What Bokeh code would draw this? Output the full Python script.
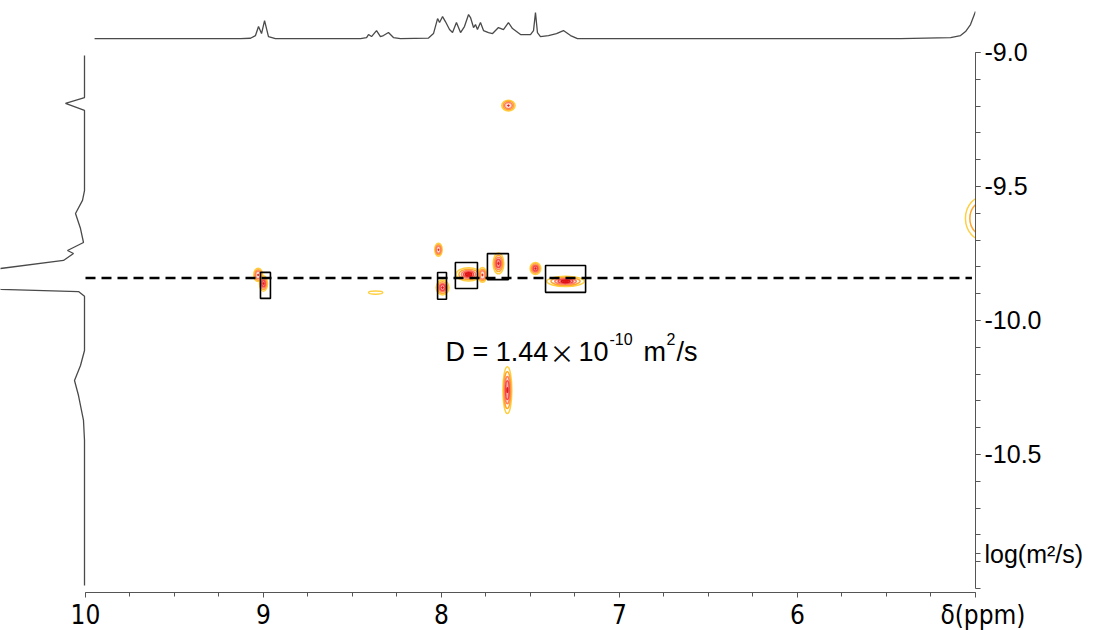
import numpy as np
from bokeh.plotting import figure
from bokeh.models import Range1d, FixedTicker, Label
from bokeh.embed import file_html
from bokeh.resources import INLINE

# ---- 1D 1H spectrum (top projection): chemical shift (ppm) / intensity (a.u.)
h1_ppm = [9.949, 9.129, 9.073, 9.045, 9.028, 9.011, 8.994, 8.972, 8.933, 8.455,
          8.421, 8.410, 8.393, 8.365, 8.343, 8.326, 8.298, 8.270, 8.230, 8.073,
          8.045, 8.022, 8.011, 7.994, 7.978, 7.955, 7.938, 7.916, 7.893, 7.871,
          7.848, 7.837, 7.820, 7.809, 7.798, 7.781, 7.764, 7.736, 7.713, 7.680,
          7.652, 7.624, 7.601, 7.556, 7.500, 7.483, 7.472, 7.461, 7.444, 7.399,
          7.354, 7.315, 7.275, 7.236, 6.545, 5.421, 5.140, 5.084, 5.056, 5.028, 5.000]
h1_int = [0, 0, 0.3, 3, 12, 5, 18, 2, 0, 0,
          1, 4, 2, 8, 2, 3, 6, 1, 0, 0.5,
          5, 20, 16, 22, 17, 9, 6, 16, 6, 12,
          24, 21, 11, 14, 9, 16, 8, 6, 5, 11,
          9, 16, 10, 4, 4, 8, 26, 6, 2, 3,
          5, 8, 3, 0, 0, 0, 1, 3, 7, 14, 27]

# ---- diffusion-dimension projection (left): log D / intensity (a.u.)
proj_logd = [-9.011, -9.168, -9.190, -9.216, -9.515, -9.552, -9.601, -9.657,
             -9.709, -9.739, -9.750, -9.776, -9.806, -9.843, -9.884, -9.892,
             -9.910, -10.112, -10.168, -10.224, -10.280, -10.373, -10.448, -10.989]
proj_int = [0, 0, 19, 0, 0, 2, 9, 4,
            1, 17, 11, 21, 84, 140, 84, 6,
            0, 0, 4, 10, 6, 1, 0, 0]

# ---- 2D DOSY cross peaks: shift, log D, line widths, number of contour levels
peak_ppm = [9.03, 9.00, 8.37, 8.017, 7.994, 7.848, 7.77, 7.68, 7.472, 7.303, 7.624, 7.63, 4.944]
peak_logd = [-9.83, -9.862, -9.896, -9.736, -9.877, -9.828, -9.83, -9.787, -9.806, -9.854,
             -9.198, -10.26, -9.619]
peak_w = [0.05, 0.045, 0.08, 0.042, 0.072, 0.14, 0.05, 0.06, 0.06, 0.21, 0.075, 0.05, 0.225]
peak_h = [0.05, 0.058, 0.012, 0.048, 0.056, 0.05, 0.055, 0.078, 0.045, 0.038, 0.04, 0.175, 0.17]
peak_levels = [3, 4, 1, 3, 4, 5, 3, 4, 4, 5, 3, 4, 2]

# ---- boxes marking the signals of the species
box_ppm = [8.989, 7.997, 7.86, 7.683, 7.303]
box_logd = [-9.869, -9.871, -9.832, -9.799, -9.845]
box_w = [0.056, 0.05, 0.124, 0.118, 0.225]
box_h = [0.097, 0.1, 0.097, 0.097, 0.10]

# ---- diffusion coefficient (m^2/s)
D_value = 1.44e-10
logD = np.log10(D_value)

x_ticks = [10, 9, 8, 7, 6]
y_ticks = [-9.0, -9.5, -10.0, -10.5]
y_tick_labels = ["-9.0", "-9.5", "-10.0", "-10.5"]
x_title = "\u03b4(ppm)"
y_title = "log(m\u00b2/s)"

level_colors = ["#FFCF40", "#FFA62B", "#FF7F5E", "#F24848", "#DD1010"]
level_fill_alpha = [0.0, 0.0, 0.25, 0.35, 0.5]
level_scale = [1.0, 0.78, 0.58, 0.40, 0.24]

p = figure(frame_width=975, frame_height=592,
           x_range=Range1d(10.4775, 5.0), y_range=Range1d(-11.015, -8.806),
           y_axis_location="right", x_axis_location="below",
           min_border_left=0, min_border_top=0, min_border_right=132, min_border_bottom=38,
           output_backend="svg", toolbar_location=None, background_fill_color="white",
           border_fill_color="white")
p.outline_line_color = None
p.grid.visible = False

# top 1D spectrum, placed above the 2D area
top_base = -8.948
top_scale = 1 / 268
p.line(h1_ppm, [top_base + v * top_scale for v in h1_int], line_color="#4a4a4a", line_width=1.3)

# left projection, pointing to the left of the 2D area
left_base = 10.0056
left_scale = 1 / 178
p.line([left_base + v * left_scale for v in proj_int], proj_logd, line_color="#4a4a4a", line_width=1.3)

# contour levels drawn as nested ellipses
for lev in range(5):
    xs, ys, ws, hs = [], [], [], []
    for i in range(len(peak_ppm)):
        if peak_levels[i] > lev:
            xs.append(peak_ppm[i]); ys.append(peak_logd[i])
            ws.append(peak_w[i] * level_scale[lev]); hs.append(peak_h[i] * level_scale[lev])
    if xs:
        p.ellipse(x=xs, y=ys, width=ws, height=hs, fill_color=level_colors[lev],
                  fill_alpha=level_fill_alpha[lev],
                  line_color=level_colors[lev], line_width=1.5)

# inner red core of the stronger peaks
core = [i for i in range(len(peak_ppm)) if peak_levels[i] >= 3]
p.ellipse(x=[peak_ppm[i] for i in core], y=[peak_logd[i] for i in core],
          width=[peak_w[i] * 0.12 for i in core], height=[peak_h[i] * 0.12 for i in core],
          fill_color="#E01818", line_color="#E01818", line_width=1)

# boxes
p.rect(x=box_ppm, y=box_logd, width=box_w, height=box_h, fill_color=None,
       line_color="black", line_width=1.6)

# dashed line at log D
p.line([10.0, 5.02], [logD, logD], line_color="black", line_width=2.5, line_dash="10 6")

# D label (pieces for superscripts)
base_y = -10.116
sup_y = -10.07
font = "Liberation Sans"
for txt, xx, yy, size, fnt in [
    ("D = 1.44", 7.978, base_y, "27px", font),
    ("\u00d7", 7.393, base_y, "25px", "Noto Sans CJK SC"),
    ("10", 7.23, base_y, "27px", font),
    ("-10", 7.056, sup_y, "16px", font),
    ("m", 6.865, base_y, "27px", font),
    ("2", 6.736, sup_y, "16px", font),
    ("/s", 6.68, base_y, "27px", font),
]:
    p.add_layout(Label(x=xx, y=yy, text=txt, text_font=fnt, text_font_size=size,
                       text_baseline="alphabetic", text_align="left", text_color="black"))

# axes
xa = p.xaxis[0]
xa.ticker = FixedTicker(ticks=x_ticks + [5.0], minor_ticks=[5 + 0.25 * k for k in range(21)])
xa.major_label_overrides = {5.0: "\u00a0\u00a0" + x_title}
xa.bounds = (5.0, 10.0)
xa.axis_line_color = "#555555"
xa.major_tick_line_color = "#555555"
xa.minor_tick_line_color = "#555555"
xa.major_tick_in = 0
xa.major_tick_out = 5
xa.minor_tick_in = 0
xa.minor_tick_out = 4
xa.major_label_standoff = 2
xa.major_label_text_font = "Liberation Sans Narrow, DejaVu Sans Condensed, sans-serif"
xa.major_label_text_font_size = "26px"
xa.major_label_text_color = "black"

ya = p.yaxis[0]
ya.ticker = FixedTicker(ticks=y_ticks + [-10.87],
                        minor_ticks=[round(-11 + 0.1 * k, 2) for k in range(21)])
overrides = {t: s for t, s in zip(y_ticks, y_tick_labels)}
overrides[-10.87] = y_title
ya.major_label_overrides = overrides
ya.bounds = (-11.0, -9.0)
ya.axis_line_color = "#555555"
ya.major_tick_line_color = "#555555"
ya.minor_tick_line_color = "#555555"
ya.major_tick_in = 0
ya.major_tick_out = 5
ya.minor_tick_in = 0
ya.minor_tick_out = 5
ya.major_label_standoff = 4
ya.major_label_text_font = font
ya.major_label_text_font_size = "25px"
ya.major_label_text_color = "black"

open("out.html", "w").write(file_html(p, INLINE))
